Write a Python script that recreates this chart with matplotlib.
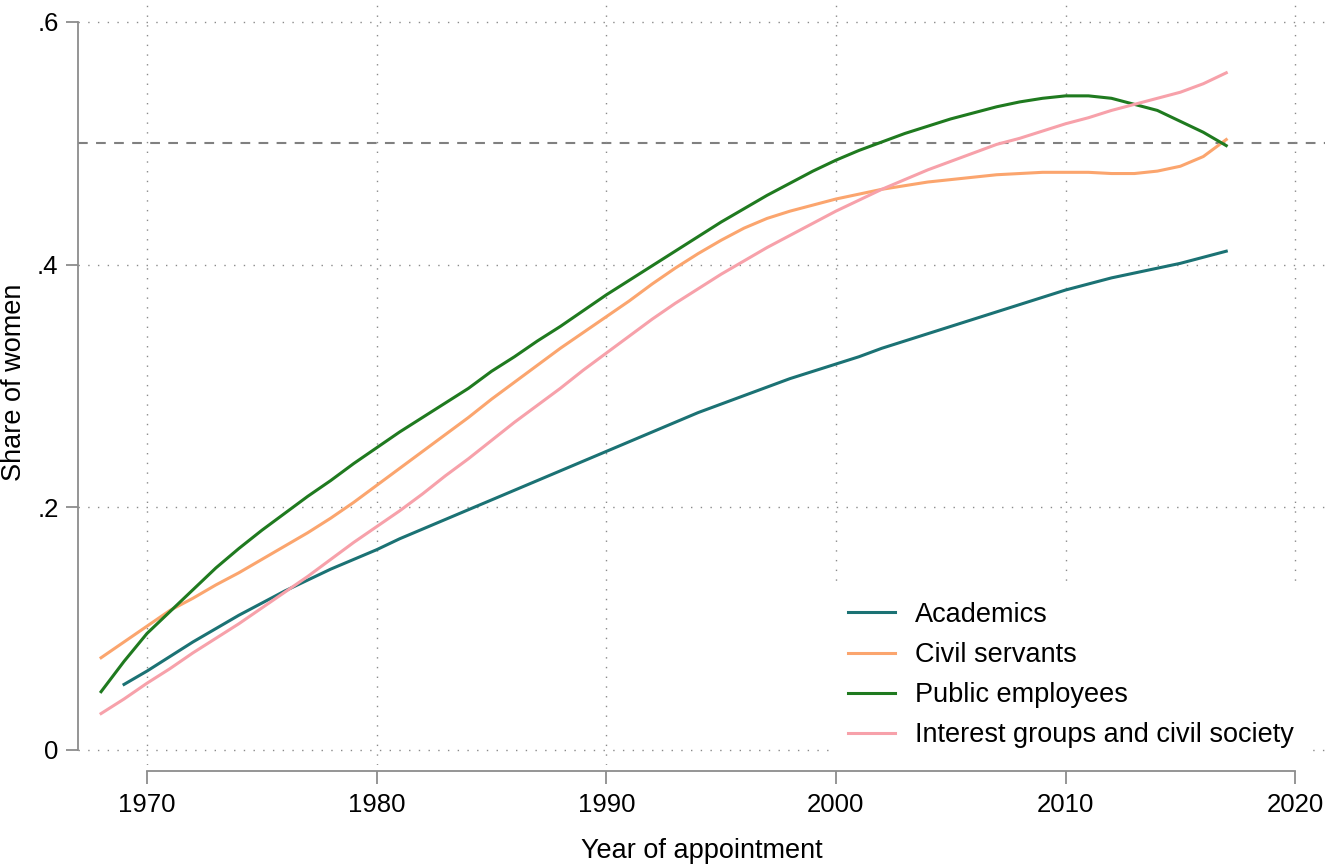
import matplotlib
matplotlib.use("Agg")
import matplotlib.pyplot as plt

# Share of women by year of appointment
years = list(range(1968, 2018))

public_employees = [
    .048, .073, .096, .114, .132, .150, .166, .181, .195, .209,
    .222, .236, .249, .262, .274, .286, .298, .312, .324, .337,
    .349, .362, .375, .387, .399, .411, .423, .435, .446, .457,
    .467, .477, .486, .494, .501, .508, .514, .520, .525, .530,
    .534, .537, .539, .539, .537, .532, .527, .518, .509, .498,
]

civil_servants = [
    .076, .089, .102, .115, .125, .136, .146, .157, .168, .179,
    .191, .204, .218, .232, .246, .260, .274, .289, .303, .317,
    .331, .344, .357, .370, .384, .397, .409, .420, .430, .438,
    .444, .449, .454, .458, .462, .465, .468, .470, .472, .474,
    .475, .476, .476, .476, .475, .475, .477, .481, .489, .503,
]

interest_groups = [
    .030, .042, .055, .067, .080, .092, .104, .117, .130, .143,
    .157, .171, .184, .197, .211, .226, .240, .255, .270, .284,
    .298, .313, .327, .341, .355, .368, .380, .392, .403, .414,
    .424, .434, .444, .453, .462, .470, .478, .485, .492, .499,
    .504, .510, .516, .521, .527, .532, .537, .542, .549, .558,
]

# academics start one year later
academics_years = list(range(1969, 2018))
academics = [
    .054, .065, .077, .089, .100, .111, .121, .131, .140,
    .149, .157, .165, .174, .182, .190, .198, .206, .214, .222,
    .230, .238, .246, .254, .262, .270, .278, .285, .292, .299,
    .306, .312, .318, .324, .331, .337, .343, .349, .355, .361,
    .367, .373, .379, .384, .389, .393, .397, .401, .406, .411,
]

x_ticks = [1970, 1980, 1990, 2000, 2010, 2020]
y_ticks = [0, .2, .4, .6]
y_tick_labels = ["0", ".2", ".4", ".6"]

plt.rcParams["font.family"] = ["Liberation Sans", "DejaVu Sans"]
plt.rcParams["lines.scale_dashes"] = False

axis_grey = "#8c8c8c"
lw = 2.2

fig = plt.figure(figsize=(13.25, 8.67), dpi=100)
ax = fig.add_axes([78 / 1325, 1 - 765 / 867, (1325 - 78) / 1325, 765 / 867])

ax.plot(academics_years, academics, color="#1b7274", lw=lw, label="Academics")
ax.plot(years, civil_servants, color="#fba56e", lw=lw, label="Civil servants")
ax.plot(years, public_employees, color="#1f7a1f", lw=lw, label="Public employees")
ax.plot(years, interest_groups, color="#f7a1aa", lw=lw,
        label="Interest groups and civil society")

ax.axhline(0.5, color="#808080", lw=1.5, ls=(0, (7, 6)), zorder=1)

ax.set_xlim(1966.995, 2021.3)
ax.set_ylim(-0.0124, 0.618)

ax.set_xticks(x_ticks)
ax.set_yticks(y_ticks)
ax.set_yticklabels(y_tick_labels)
ax.grid(True, color="#8a8a8a", lw=1.0, ls=(0, (1, 6)), zorder=0)

for side in ["top", "right"]:
    ax.spines[side].set_visible(False)
ax.spines["left"].set_bounds(0, 0.6)
ax.spines["bottom"].set_bounds(1970, 2020)
ax.spines["bottom"].set_position(("outward", 4))
for side in ["left", "bottom"]:
    ax.spines[side].set_color(axis_grey)
    ax.spines[side].set_linewidth(1.3)

ax.tick_params(axis="both", colors=axis_grey, width=1.3, length=9,
               labelsize=18.5, labelcolor="black")
ax.tick_params(axis="y", pad=5)
ax.tick_params(axis="x", pad=7)

ax.set_xlabel("Year of appointment", fontsize=19.5, labelpad=15)
ax.set_ylabel("Share of women", fontsize=19.5, labelpad=7)

leg = ax.legend(loc="lower right", bbox_to_anchor=(1246 / 1247, -13 / 765),
                fontsize=19.5, frameon=True, fancybox=False,
                handlelength=1.75, handletextpad=0.74, labelspacing=0.52,
                borderpad=0.6)
leg.get_frame().set_edgecolor("white")
leg.get_frame().set_facecolor("white")
leg.get_frame().set_alpha(1)

fig.savefig("out.png", dpi=100)
